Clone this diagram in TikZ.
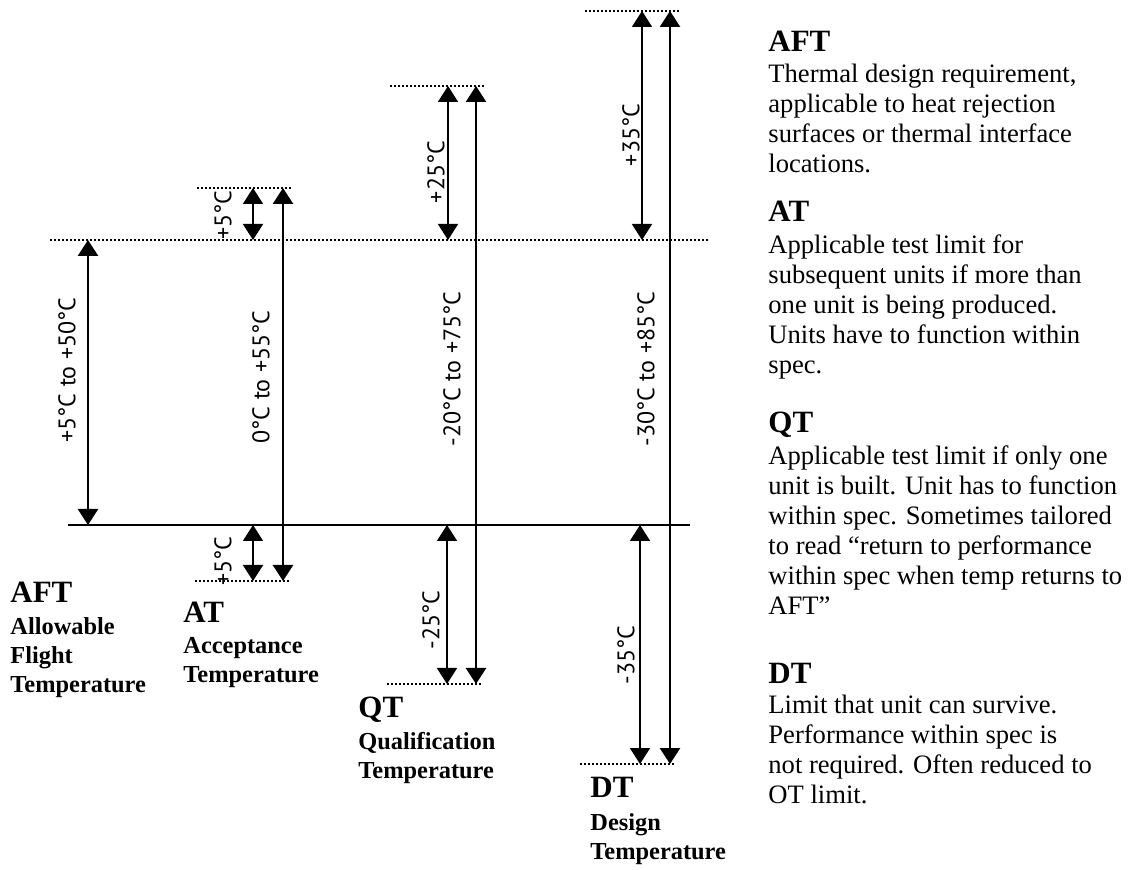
\documentclass[tikz,border=0pt]{standalone}
\usepackage{fontspec}
\setmainfont{Liberation Serif}
\newfontfamily\valfont{PT Sans}
\usetikzlibrary{positioning,arrows.meta}

\begin{document}
\begin{tikzpicture}[
  x=0.5pt, y=-0.5pt,
  lim/.style   = {line width=1.2pt, dash pattern=on 1pt off 1pt},
  zero/.style  = {line width=1pt},
  span/.style  = {{Triangle[width=10pt,length=8pt]}-{Triangle[width=10pt,length=8pt]},
                  line width=1.3pt},
  delta/.style = {span, line width=0.85pt},
  val/.style   = {rotate=90, font=\valfont\fontsize{12}{12}\selectfont, inner sep=0pt},
  head/.style  = {font=\bfseries\fontsize{15.5}{16}\selectfont, inner sep=0pt,
                  anchor=base west},
  fullname/.style = {font=\bfseries\fontsize{12.2}{14.5}\selectfont, inner sep=0pt,
                  align=left},
  desc/.style  = {font=\fontsize{13.3}{15}\selectfont, inner sep=0pt, align=left}
]
\useasboundingbox (0,0) rectangle (1129,870);

% ---------------------------------------------------------------- livelli --
\coordinate (topL)  at (50,240);  \coordinate (topR)  at (710,240);
\coordinate (baseL) at (68,525);  \coordinate (baseR) at (690,525);
\coordinate (atHiL) at (197,188); \coordinate (atHiR) at (292,188);
\coordinate (atLoL) at (195,581); \coordinate (atLoR) at (290,581);
\coordinate (qtHiL) at (390,86);  \coordinate (qtHiR) at (485,86);
\coordinate (qtLoL) at (387,684); \coordinate (qtLoR) at (483,684);
\coordinate (dtHiL) at (585,11);  \coordinate (dtHiR) at (680,11);
\coordinate (dtLoL) at (580,764); \coordinate (dtLoR) at (675,764);

\draw[lim]  (topL) -- (topR);
\draw[zero] (baseL) -- (baseR);
\foreach \c in {atHi,atLo,qtHi,qtLo,dtHi,dtLo}
  \draw[lim] (\c L) -- (\c R);

% ----------------------------------------------------------------- frecce --
\coordinate (aftA) at (88,240);   \coordinate (aftB) at (88,525);
\coordinate (atA)  at (283,188);  \coordinate (atB)  at (283,581);
\coordinate (atP)  at (253,188);  \coordinate (atQ)  at (253,240);
\coordinate (atR)  at (253,525);  \coordinate (atS)  at (253,581);
\coordinate (qtA)  at (476,86);   \coordinate (qtB)  at (476,684);
\coordinate (qtP)  at (448,86);   \coordinate (qtQ)  at (448,240);
\coordinate (qtR)  at (447,525);  \coordinate (qtS)  at (447,684);
\coordinate (dtA)  at (670,11);   \coordinate (dtB)  at (670,764);
\coordinate (dtP)  at (642,11);   \coordinate (dtQ)  at (642,240);
\coordinate (dtR)  at (640,525);  \coordinate (dtS)  at (640,764);

\draw[span]  (aftA) -- (aftB);
\draw[span]  (atA) -- (atB);
\draw[delta] (atP) -- (atQ);
\draw[delta] (atR) -- (atS);
\draw[span]  (qtA) -- (qtB);
\draw[delta] (qtP) -- (qtQ);
\draw[delta] (qtR) -- (qtS);
\draw[span]  (dtA) -- (dtB);
\draw[delta] (dtP) -- (dtQ);
\draw[delta] (dtR) -- (dtS);

% ------------------------------------------------------------------ valori --
\node[val] (aftV)  at (67,370)  {+5°C to +50°C};
\node[val] (atV)   at (261,377) {0°C to +55°C};
\node[val] (atVh)  at (223,215) {+5°C};
\node[val] (atVl)  at (223,561) {+5°C};
\node[val] (qtV)   at (452,369) {-20°C to +75°C};
\node[val] (qtVh)  at (436,172) {+25°C};
\node[val] (qtVl)  at (431,620) {-25°C};
\node[val] (dtV)   at (646,369) {-30°C to +85°C};
\node[val] (dtVh)  at (631,135) {+35°C};
\node[val] (dtVl)  at (626,655) {-35°C};

% ------------------------------------------------------------------- nomi --
\node[head] (aftTag) at (10,603)  {AFT};
\node[fullname, below=7pt of aftTag.base west, anchor=north west] (aftName)
  {Allowable\\Flight\\Temperature};
\node[head] (atTag)  at (183,623) {AT};
\node[fullname, below=7pt of atTag.base west, anchor=north west] (atName)
  {Acceptance\\Temperature};
\node[head] (qtTag)  at (358,718) {QT};
\node[fullname, below=7pt of qtTag.base west, anchor=north west] (qtName)
  {Qualification\\Temperature};
\node[head] (dtTag)  at (590,797) {DT};
\node[fullname, below=8pt of dtTag.base west, anchor=north west] (dtName)
  {Design\\Temperature};

% ------------------------------------------------------------ definizioni --
\node[head] (aftKey) at (768,52) {AFT};
\node[desc, below=6pt of aftKey.base west, anchor=north west] (aftText)
  {Thermal design requirement,\\applicable to heat rejection\\surfaces or thermal interface\\locations.};
\node[head] (atKey) at (768,222) {AT};
\node[desc, below=6pt of atKey.base west, anchor=north west] (atText)
  {Applicable test limit for\\subsequent units if more than\\one unit is being produced.\\Units have to function within\\spec.};
\node[head] (qtKey) at (768,433) {QT};
\node[desc, below=6pt of qtKey.base west, anchor=north west] (qtText)
  {Applicable test limit if only one\\unit is built. Unit has to function\\within spec. Sometimes tailored\\to read “return to performance\\within spec when temp returns to\\AFT”};
\node[head] (dtKey) at (768,683) {DT};
\node[desc, below=6pt of dtKey.base west, anchor=north west] (dtText)
  {Limit that unit can survive.\\Performance within spec is\\not required. Often reduced to\\OT limit.};

\end{tikzpicture}
\end{document}
